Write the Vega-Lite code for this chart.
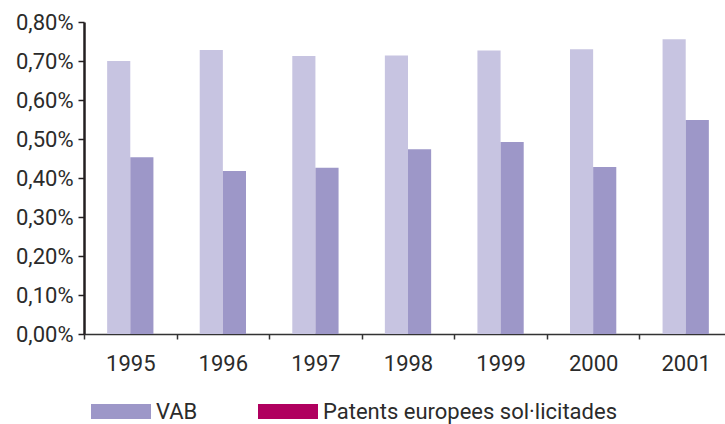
{
  "$schema": "https://vega.github.io/schema/vega-lite/v6.json",
  "width": 641,
  "height": 312,
  "autosize": {"type": "none"},
  "padding": {"left": 84, "top": 22, "right": 0, "bottom": 90},
  "background": "white",
  "config": {"font": "Roboto", "view": {"stroke": null}},
  "data": {
    "values": [
      {"year": "1995", "series": "VAB", "value": 0.700},
      {"year": "1995", "series": "Patents europees sol·licitades", "value": 0.453},
      {"year": "1996", "series": "VAB", "value": 0.728},
      {"year": "1996", "series": "Patents europees sol·licitades", "value": 0.418},
      {"year": "1997", "series": "VAB", "value": 0.713},
      {"year": "1997", "series": "Patents europees sol·licitades", "value": 0.426},
      {"year": "1998", "series": "VAB", "value": 0.714},
      {"year": "1998", "series": "Patents europees sol·licitades", "value": 0.474},
      {"year": "1999", "series": "VAB", "value": 0.727},
      {"year": "1999", "series": "Patents europees sol·licitades", "value": 0.492},
      {"year": "2000", "series": "VAB", "value": 0.730},
      {"year": "2000", "series": "Patents europees sol·licitades", "value": 0.428},
      {"year": "2001", "series": "VAB", "value": 0.756},
      {"year": "2001", "series": "Patents europees sol·licitades", "value": 0.549}
    ]
  },
  "encoding": {
    "x": {
      "field": "year",
      "type": "ordinal",
      "scale": {"paddingInner": 0, "paddingOuter": 0, "range": [0, 648]},
      "axis": {
        "title": null,
        "labelAngle": 0,
        "tickBand": "extent",
        "labelFontSize": 22,
        "labelColor": "#2b2b2b",
        "labelPadding": 14,
        "tickSize": 5,
        "tickWidth": 1.5,
        "tickColor": "#333333",
        "domainColor": "#333333",
        "domainWidth": 1.5
      }
    },
    "xOffset": {
      "field": "series",
      "type": "nominal",
      "scale": {"domain": ["VAB", "Patents europees sol·licitades"], "paddingInner": 0, "paddingOuter": 1}
    },
    "y": {
      "field": "value",
      "type": "quantitative",
      "scale": {"domain": [0, 0.8], "nice": false},
      "axis": {
        "title": null,
        "values": [0, 0.1, 0.2, 0.3, 0.4, 0.5, 0.6, 0.7, 0.8],
        "labelExpr": "replace(format(datum.value, '.2f'), '.', ',') + '%'",
        "grid": false,
        "labelFontSize": 22,
        "labelColor": "#2b2b2b",
        "labelPadding": 5,
        "tickSize": 6,
        "tickWidth": 1.5,
        "tickColor": "#231f20",
        "domainColor": "#231f20",
        "domainWidth": 2.5
      }
    }
  },
  "layer": [
    {
      "mark": {"type": "bar"},
      "encoding": {
        "color": {
          "field": "series",
          "type": "nominal",
          "scale": {"range": ["#9d97c8", "#c7c4e1"]},
          "legend": null
        }
      }
    },
    {
      "mark": {"type": "bar"},
      "encoding": {
        "y2": {"field": "value"},
        "fill": {
          "field": "series",
          "type": "nominal",
          "scale": {"domain": ["VAB", "Patents europees sol·licitades"], "range": ["#9d97c8", "#b0005f"]},
          "legend": {
            "title": null,
            "orient": "none",
            "direction": "horizontal",
            "legendX": 7,
            "legendY": 359.5,
            "symbolType": "M-1,-0.25H1V0.25H-1Z",
            "symbolSize": 3600,
            "symbolStrokeWidth": 0,
            "labelFontSize": 22,
            "labelColor": "#2b2b2b",
            "labelOffset": 5,
            "labelLimit": 0,
            "columnPadding": 60
          }
        }
      }
    }
  ]
}
